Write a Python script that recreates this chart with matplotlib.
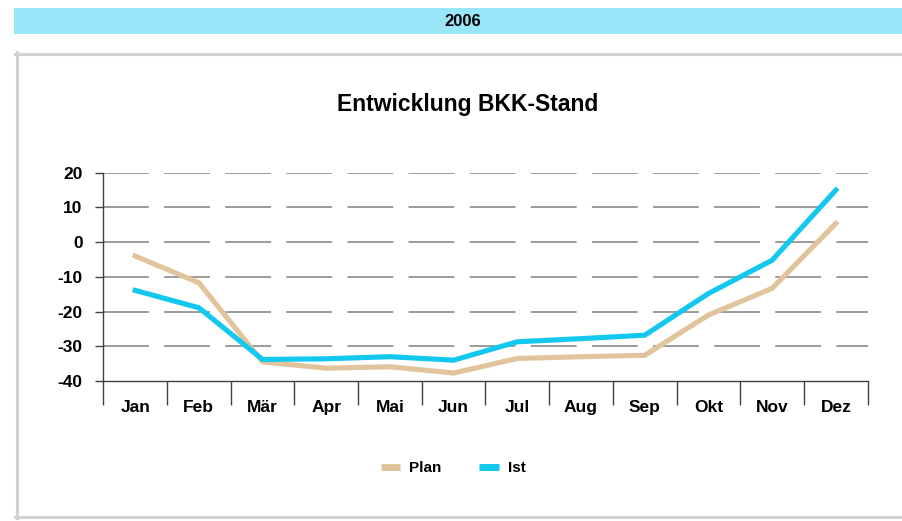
import matplotlib
matplotlib.use("Agg")
import matplotlib.pyplot as plt
from matplotlib.lines import Line2D
from matplotlib.patches import Rectangle

plt.rcParams['font.family'] = ['Liberation Sans', 'DejaVu Sans']
plt.rcParams['font.weight'] = 'bold'

# Daten
monate = ['Jan', 'Feb', 'Mär', 'Apr', 'Mai', 'Jun', 'Jul', 'Aug', 'Sep', 'Okt', 'Nov', 'Dez']
plan = [-4.0, -11.7, -34.5, -36.3, -35.9, -37.7, -33.5, -33.0, -32.6, -21.0, -13.3, 5.4]
ist = [-13.9, -18.9, -33.8, -33.6, -33.0, -34.0, -28.7, -27.8, -26.8, -14.8, -5.2, 15.0]
y_ticks = [-40, -30, -20, -10, 0, 10, 20]

W, H = 903, 521
fig = plt.figure(figsize=(W / 100, H / 100), dpi=100)

def fx(px):
    return px / W

def fy(py):
    return 1 - py / H

# Banner oben
fig.add_artist(Rectangle((fx(14), fy(34)), fx(903) - fx(14), fy(8) - fy(34),
                         transform=fig.transFigure, facecolor='#98E6F8', edgecolor='none'))
fig.text(fx(463), fy(21), '2006', ha='center', va='center', fontsize=12, fontweight='bold')

# grauer Rahmen
grau = '#D2D2D2'
fig.add_artist(Line2D([fx(15), fx(903)], [fy(53.5), fy(53.5)], color=grau, lw=2.2, transform=fig.transFigure))
fig.add_artist(Line2D([fx(16.5), fx(16.5)], [fy(52), fy(518)], color=grau, lw=2.2, transform=fig.transFigure))
fig.add_artist(Line2D([fx(15), fx(903)], [fy(516.5), fy(516.5)], color=grau, lw=2.2, transform=fig.transFigure))

fig.text(fx(468), fy(104), 'Entwicklung BKK-Stand', ha='center', va='center',
         fontsize=16.5, fontweight='bold')

ax = fig.add_axes([fx(103.3), fy(381), fx(867.7) - fx(103.3), fy(172.7) - fy(381)])
x = list(range(len(monate)))

for yv in y_ticks[1:]:
    ax.plot([-0.5, 11.5], [yv, yv], color='#808080', lw=1.1,
            dashes=(33 / 1.1, 11 / 1.1), zorder=1)

ax.plot(x, plan, color='#E1C49C', lw=3.7, solid_joinstyle='miter', label='Plan', zorder=3)
ax.plot(x, ist, color='#12C8EE', lw=3.7, solid_joinstyle='miter', label='Ist', zorder=4)

ax.set_xlim(-0.5, 11.5)
ax.set_ylim(-40, 20)
ax.set_yticks(y_ticks)
ax.set_yticklabels([str(v) for v in y_ticks])

ax.set_xticks([i - 0.5 for i in range(len(monate) + 1)])
ax.set_xticklabels([])
ax.set_xticks(x, minor=True)
ax.set_xticklabels(monate, minor=True)

ax.tick_params(axis='x', which='major', direction='out', length=17, width=1, color='#404040')
ax.tick_params(axis='x', which='minor', length=0, pad=13.5, labelsize=12.5)
ax.tick_params(axis='y', direction='out', length=5.8, width=1, color='#404040', pad=9, labelsize=12.5)

for s in ['top', 'right']:
    ax.spines[s].set_visible(False)
for s in ['left', 'bottom']:
    ax.spines[s].set_color('#404040')
    ax.spines[s].set_linewidth(1)

leg = ax.legend(loc='center', bbox_to_anchor=(fx(453), fy(468)), bbox_transform=fig.transFigure,
                ncol=2, frameon=False, fontsize=11, handlelength=1.25, handletextpad=0.6,
                columnspacing=2.5)
for line in leg.get_lines():
    line.set_linewidth(5)
    line.set_solid_capstyle('butt')

fig.savefig('out.png', dpi=100)
